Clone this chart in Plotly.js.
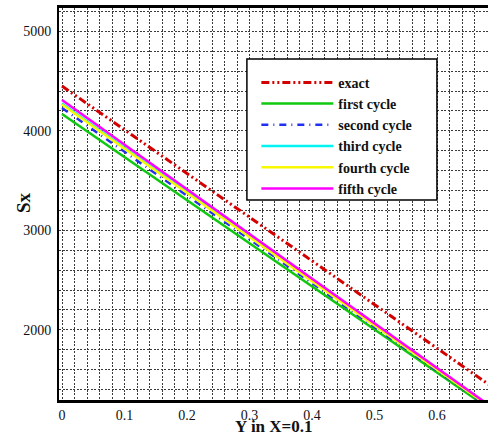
<!DOCTYPE html>
<html>
<head>
<meta charset="utf-8">
<script src="https://cdn.plot.ly/plotly-3.0.1.min.js"></script>
<style>html,body{margin:0;padding:0;background:#fff;}#chart{width:488px;height:436px;}</style>
</head>
<body>
<div id="chart"></div>
<script>
// Data
const yPos = [0, 0.1, 0.2, 0.3, 0.4, 0.5, 0.6, 0.7];
const exact       = [4450, 4011, 3572, 3133, 2694, 2255, 1815, 1376];
const firstCycle  = [4170, 3737, 3304, 2870, 2437, 2004, 1571, 1138];
const secondCycle = [4230, 3790, 3350, 2910, 2470, 2030, 1590, 1150];
const thirdCycle  = [4275, 3830, 3385, 2940, 2495, 2050, 1605, 1160];
const fourthCycle = [4265, 3821, 3377, 2933, 2489, 2045, 1601, 1157];
const fifthCycle  = [4310, 3861, 3412, 2964, 2515, 2066, 1617, 1168];
const seriesNames = ["exact", "first cycle", "second cycle", "third cycle", "fourth cycle", "fifth cycle"];
const xTickVals = [0, 0.1, 0.2, 0.3, 0.4, 0.5, 0.6];
const xTickText = ["0", "0.1", "0.2", "0.3", "0.4", "0.5", "0.6"];
const yTickVals = [2000, 3000, 4000, 5000];
const yTickText = ["2000", "3000", "4000", "5000"];
const xTitle = "Y in X=0.1";
const yTitle = "Sx";

const serif = "Liberation Serif, Times New Roman, serif";
const styles = [
  {color: "#d40000", width: 3,   dash: "8px,3px,2px,3px,2px,3px"},
  {color: "#10c810", width: 2.5, dash: "solid"},
  {color: "#2030f0", width: 2.5, dash: "7px,5px,1px,5px"},
  {color: "#00f4f4", width: 2.5, dash: "solid"},
  {color: "#f8f800", width: 2.5, dash: "solid"},
  {color: "#ff00ff", width: 2.5, dash: "solid"}
];
const allSeries = [exact, firstCycle, secondCycle, thirdCycle, fourthCycle, fifthCycle];

const traces = allSeries.map((vals, i) => ({
  x: yPos, y: vals, type: "scatter", mode: "lines",
  name: "<b>" + seriesNames[i] + "</b>",
  line: styles[i]
}));

const gridDash = "2px,1.5px";
const gridColor = "#3a3a3a";
const layout = {
  width: 488, height: 436,
  margin: {l: 59, r: 0, t: 8, b: 36, pad: 0},
  paper_bgcolor: "#fff", plot_bgcolor: "#fff",
  showlegend: true,
  font: {family: serif, color: "#111", size: 14},
  xaxis: {
    range: [-0.0048, 0.6816],
    tickmode: "array", tickvals: xTickVals, ticktext: xTickText,
    showgrid: true, gridcolor: gridColor, gridwidth: 1, griddash: gridDash,
    minor: {dtick: 0.02, tick0: 0, showgrid: true, gridcolor: gridColor, gridwidth: 1, griddash: gridDash},
    showline: true, linecolor: "#000", linewidth: 3, mirror: true,
    zeroline: false, ticks: "outside", ticklen: 0,
    tickfont: {size: 14, color: "#111"}
  },
  yaxis: {
    range: [1295, 5235],
    tickmode: "array", tickvals: yTickVals, ticktext: yTickText,
    showgrid: true, gridcolor: gridColor, gridwidth: 1, griddash: gridDash,
    minor: {dtick: 200, tick0: 0, showgrid: true, gridcolor: gridColor, gridwidth: 1, griddash: gridDash},
    showline: true, linecolor: "#000", linewidth: 2, mirror: true,
    zeroline: false, ticks: "outside", ticklen: 0, ticklabelstandoff: 3,
    tickfont: {size: 14, color: "#111"}
  },
  legend: {
    x: 0.46, y: 0.85, xanchor: "left", yanchor: "top",
    bgcolor: "rgba(0,0,0,0)", borderwidth: 0,
    itemwidth: 72, tracegroupgap: 0,
    font: {family: serif, size: 14, color: "#111"}
  },
  annotations: [
    {text: "<b>" + xTitle + "</b>", xref: "paper", yref: "paper", x: 0.5, y: -0.068,
     xanchor: "center", yanchor: "middle", showarrow: false,
     font: {family: serif, size: 17, color: "#111"}},
    {text: "<b>" + yTitle + "</b>", xref: "paper", yref: "paper", x: -0.084, y: 0.505,
     xanchor: "center", yanchor: "middle", showarrow: false, textangle: -90,
     font: {family: serif, size: 19, color: "#111"}}
  ],
  shapes: [{
    type: "rect", xref: "paper", yref: "paper",
    x0: 0.438, x1: 0.881, y0: 0.510, y1: 0.870,
    line: {color: "#000", width: 1.5}, fillcolor: "#fff", layer: "above"
  }]
};

Plotly.newPlot("chart", traces, layout, {displayModeBar: false, staticPlot: true});
</script>
</body>
</html>
